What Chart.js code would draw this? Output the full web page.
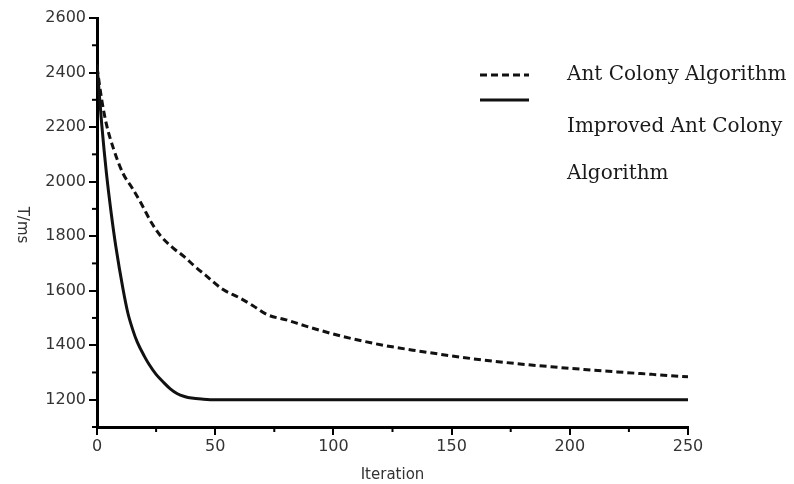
<!DOCTYPE html>
<html>
<head>
<meta charset="utf-8">
<script src="https://cdn.jsdelivr.net/npm/chart.js@4.4.1/dist/chart.umd.min.js"></script>
<style>
    html, body { margin: 0; padding: 0; background: #fff; }
    #wrap { width: 794px; height: 484px; }
</style>
</head>
<body>
<div id="wrap"><canvas id="chart" width="794" height="484"></canvas></div>
<script>
// values
const seriesNames = ['Ant Colony Algorithm', 'Improved Ant Colony Algorithm'];
const legendLines = [['Ant Colony Algorithm'], ['Improved Ant Colony', 'Algorithm']];

const antIter  = [0, 2, 4, 7, 11, 15, 19, 23, 27, 32, 37, 41, 46, 53, 60, 66, 72, 80, 88, 95, 103, 112, 121, 135, 149, 163, 178, 192, 206, 220, 235, 250];
const antTime  = [2420, 2300, 2210, 2120, 2030, 1975, 1915, 1850, 1800, 1758, 1724, 1692, 1656, 1606, 1575, 1545, 1512, 1493, 1471, 1453, 1434, 1416, 1400, 1380, 1362, 1346, 1332, 1321, 1311, 1302, 1293, 1284];

const impIter  = [0, 2, 4, 6, 8, 11, 13, 15, 17, 20, 22, 25, 28, 31, 34, 37, 40, 45, 50, 60, 100, 150, 200, 250];
const impTime  = [2430, 2210, 2030, 1885, 1760, 1606, 1520, 1460, 1412, 1360, 1330, 1293, 1265, 1240, 1222, 1212, 1206, 1202, 1200, 1200, 1200, 1200, 1200, 1200];

const xTicks = [0, 50, 100, 150, 200, 250];
const yTicks = [1200, 1400, 1600, 1800, 2000, 2200, 2400, 2600];
const yMinor = [1100, 1300, 1500, 1700, 1900, 2100, 2300, 2500];

function toPoints(xs, ys) {
    return xs.map(function(x, i) { return { x: x, y: ys[i] }; });
}

// minor ticks, y axis title and the two-line legend
const extras = {
    id: 'extras',
    afterDraw: function(chart) {
        const ctx = chart.ctx;
        const xs = chart.scales.x, ys = chart.scales.y;
        ctx.save();
        ctx.strokeStyle = '#000';
        ctx.lineWidth = 2;
        for (let i = 0; i < xTicks.length - 1; i++) {
            const px = xs.getPixelForValue((xTicks[i] + xTicks[i + 1]) / 2);
            ctx.beginPath();
            ctx.moveTo(px, xs.top);
            ctx.lineTo(px, xs.top + 5);
            ctx.stroke();
        }
        yMinor.forEach(function(v) {
            const py = ys.getPixelForValue(v);
            ctx.beginPath();
            ctx.moveTo(ys.right, py);
            ctx.lineTo(ys.right - 5, py);
            ctx.stroke();
        });

        // y title reads top to bottom
        ctx.fillStyle = '#333';
        ctx.font = '15px "DejaVu Sans"';
        ctx.textAlign = 'center';
        ctx.textBaseline = 'middle';
        ctx.translate(22, 225);
        ctx.rotate(Math.PI / 2);
        ctx.fillText('T/ms', 0, 0);
        ctx.restore();

        // legend
        ctx.save();
        const ds = chart.data.datasets;
        const rows = [[75], [127, 174]];
        const samples = [75, 100];
        ds.forEach(function(d, i) {
            ctx.strokeStyle = d.borderColor;
            ctx.lineWidth = 3;
            ctx.setLineDash(d.borderDash || []);
            ctx.beginPath();
            ctx.moveTo(480, samples[i]);
            ctx.lineTo(529, samples[i]);
            ctx.stroke();
            ctx.setLineDash([]);
            ctx.fillStyle = '#1a1a1a';
            ctx.font = '20px "DejaVu Serif"';
            ctx.textAlign = 'left';
            ctx.textBaseline = 'middle';
            legendLines[i].forEach(function(t, j) {
                ctx.fillText(t, 567, rows[i][j]);
            });
        });
        ctx.restore();
    }
};

const ctx = document.getElementById('chart').getContext('2d');
new Chart(ctx, {
    type: 'line',
    data: {
        datasets: [{
            label: seriesNames[0],
            data: toPoints(antIter, antTime),
            borderColor: '#111',
            borderWidth: 3,
            borderDash: [7, 4],
            pointRadius: 0,
            cubicInterpolationMode: 'monotone',
            fill: false
        }, {
            label: seriesNames[1],
            data: toPoints(impIter, impTime),
            borderColor: '#111',
            borderWidth: 3,
            pointRadius: 0,
            cubicInterpolationMode: 'monotone',
            fill: false
        }]
    },
    options: {
        responsive: false,
        animation: false,
        layout: { padding: { top: 18, right: 106, left: 0, bottom: 0 } },
        plugins: {
            legend: { display: false },
            tooltip: { enabled: false }
        },
        scales: {
            x: {
                type: 'linear',
                min: 0,
                max: 250,
                afterFit: function(scale) { scale.height = 57; },
                afterBuildTicks: function(scale) {
                    scale.ticks = xTicks.map(function(v) { return { value: v }; });
                },
                border: { color: '#000', width: 3 },
                grid: { drawOnChartArea: false, color: '#000', lineWidth: 2, tickLength: 8 },
                ticks: {
                    color: '#333', font: { family: 'DejaVu Sans', size: 16 }, padding: 2, maxRotation: 0,
                    callback: function(v) { return String(v); }
                },
                title: { display: true, text: 'Iteration', color: '#333', font: { family: 'DejaVu Sans', size: 15 }, padding: { top: 0, bottom: 0 } }
            },
            y: {
                min: 1100,
                max: 2600,
                afterFit: function(scale) { scale.width = 97; },
                afterBuildTicks: function(scale) {
                    scale.ticks = yTicks.map(function(v) { return { value: v }; });
                },
                border: { color: '#000', width: 3 },
                grid: { drawOnChartArea: false, color: '#000', lineWidth: 2, tickLength: 8 },
                ticks: {
                    color: '#333', font: { family: 'DejaVu Sans', size: 16 }, padding: 3,
                    callback: function(v) { return String(v); }
                }
            }
        }
    },
    plugins: [extras]
});
</script>
</body>
</html>
